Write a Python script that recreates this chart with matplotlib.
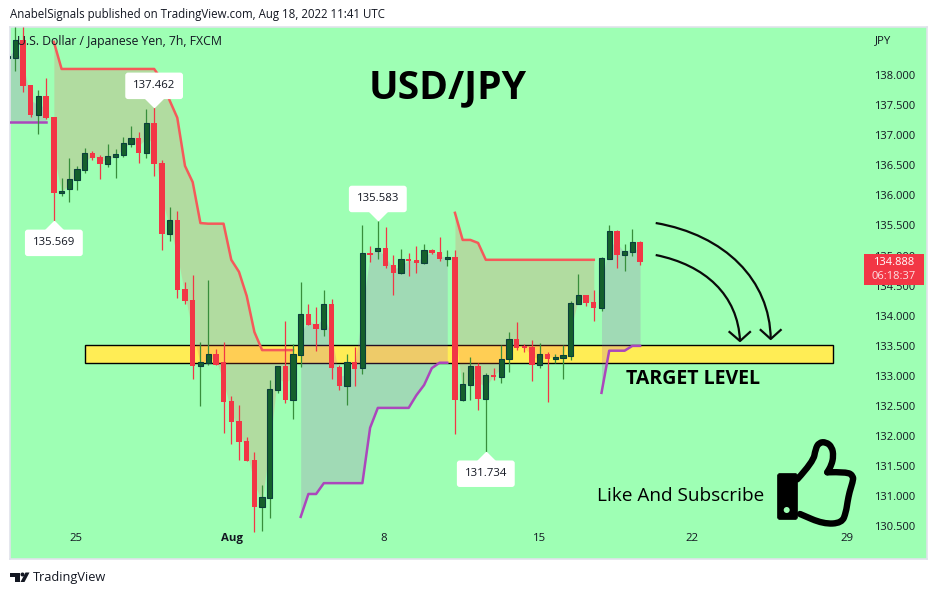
import numpy as np
import matplotlib
matplotlib.use("Agg")
import matplotlib.pyplot as plt
from matplotlib.patches import Rectangle, PathPatch, Circle, Polygon, FancyBboxPatch
from matplotlib.path import Path

# bar 0 sits on the left edge of the pane, mostly cut off
opens = [138.28, 138.28, 138.58, 137.83, 137.34, 137.65, 137.30, 136.04, 136.11, 136.26, 136.42,
         136.70, 136.64, 136.52, 136.64, 136.67, 136.85, 136.95, 136.70, 137.20, 136.54,
         135.36, 135.59, 134.44, 134.26, 133.17, 133.22, 133.37, 133.23, 132.58, 132.25,
         131.92, 131.60, 130.82, 130.97, 132.77, 133.17, 132.60, 133.35, 134.03, 133.86,
         133.78, 134.20, 133.15, 132.83, 133.23, 133.13, 135.04, 135.08, 135.13, 134.84,
         134.71, 134.94, 134.93, 134.88, 135.09, 135.06, 134.94, 134.98, 132.60, 132.85,
         133.17, 132.62, 133.02, 132.98, 133.28, 133.62, 133.48, 133.48, 133.18, 133.37,
         133.28, 133.30, 133.33, 134.20, 134.35, 134.23, 134.13, 134.94, 135.41, 135.01,
         135.06, 135.23]
highs = [138.36, 138.80, 138.80, 137.83, 137.75, 137.95, 137.30, 136.29, 136.62, 136.49, 136.79,
         136.74, 136.67, 136.85, 136.77, 136.97, 137.15, 137.05, 137.44, 137.46, 136.59,
         135.81, 135.74, 134.56, 134.68, 133.56, 134.59, 133.45, 133.56, 132.67, 132.52,
         131.99, 131.74, 131.19, 132.93, 133.17, 133.91, 133.53, 134.56, 134.20, 134.15,
         134.43, 134.28, 133.18, 133.37, 133.48, 135.51, 135.16, 135.58, 135.48, 135.01,
         135.11, 135.04, 135.16, 135.19, 135.11, 135.31, 135.09, 135.09, 133.07, 133.32,
         133.22, 133.05, 133.13, 133.52, 133.73, 133.90, 133.53, 133.60, 133.55, 133.40,
         133.37, 133.52, 134.25, 134.69, 134.35, 134.43, 134.98, 135.51, 135.43, 135.19,
         135.44, 135.24]
lows = [138.10, 138.07, 137.72, 137.30, 137.02, 137.27, 135.57, 135.99, 135.89, 136.09, 136.37,
        136.59, 136.27, 136.47, 136.29, 136.64, 136.80, 136.54, 136.62, 136.32, 135.09,
        135.24, 134.30, 134.20, 132.95, 132.50, 133.18, 133.18, 132.05, 131.87, 131.60,
        131.59, 130.41, 130.43, 130.64, 132.72, 132.55, 132.29, 133.15, 133.85, 133.42,
        133.66, 132.95, 132.77, 132.52, 132.83, 133.03, 134.89, 134.94, 134.79, 134.35,
        134.69, 134.66, 134.71, 134.86, 135.03, 134.91, 134.83, 132.04, 132.58, 132.60,
        132.44, 131.73, 132.93, 132.88, 133.07, 133.43, 133.40, 132.92, 133.13, 132.57,
        133.22, 132.95, 133.27, 134.20, 134.16, 133.91, 134.08, 134.94, 134.79, 134.74,
        134.99, 134.84]
closes = [138.30, 138.58, 137.82, 137.34, 137.65, 137.29, 136.04, 136.07, 136.27, 136.44, 136.70,
          136.62, 136.52, 136.65, 136.69, 136.87, 136.95, 136.70, 137.20, 136.52, 135.36,
          135.59, 134.43, 134.25, 133.17, 133.23, 133.37, 133.18, 132.57, 132.24, 131.90,
          131.59, 130.82, 130.99, 132.78, 133.17, 132.60, 133.37, 134.03, 133.85, 133.78,
          134.20, 133.13, 132.83, 133.23, 133.12, 135.04, 135.01, 135.13, 134.83, 134.71,
          134.94, 134.91, 134.88, 135.09, 135.04, 134.94, 134.98, 132.60, 132.87, 133.17,
          132.62, 133.02, 132.98, 133.28, 133.62, 133.47, 133.46, 133.18, 133.37, 133.28,
          133.32, 133.35, 134.21, 134.35, 134.21, 134.13, 134.96, 135.41, 135.01, 135.08,
          135.23, 134.888]

# supertrend pieces, first bar of each piece and its values
upper_a_start = 6
upper_a = [138.55] + [138.10] * 13 + [137.92, 137.58, 137.29, 136.49, 136.22, 135.54, 135.53, 135.53,
           135.53, 134.93, 134.73, 134.33, 133.73, 133.43, 133.43, 133.43, 133.43, 133.43]
upper_b_start = 58
upper_b = [135.71, 135.26, 135.26, 135.21] + [134.93] * 15
lower_a_start = 0
lower_a = [137.22] * 6
lower_b_start = 38
lower_b = [130.66, 131.04, 131.04, 131.22, 131.22, 131.22, 131.22, 131.22, 131.22, 132.14, 132.47,
           132.47, 132.47, 132.47, 132.47, 132.68, 132.85, 133.13, 133.22, 133.22]
lower_c_start = 77
lower_c = [132.72, 133.42, 133.42, 133.42, 133.50, 133.50]

y_ticks = [130.5, 131.0, 131.5, 132.0, 132.5, 133.0, 133.5, 134.0, 134.5, 135.0, 135.5,
           136.0, 136.5, 137.0, 137.5, 138.0]
x_tick_bars = [8.87, 29.1, 48.8, 68.9, 88.7, 108.8]
x_tick_labels = ["25", "Aug", "8", "15", "22", "29"]

target_top = 133.515
target_bottom = 133.21
target_first = 10.04
target_last = 106.96

# bar, price, text, side
price_marks = [(6, 135.569, "135.569", "low"), (19, 137.462, "137.462", "high"),
               (48, 135.583, "135.583", "high"), (62, 131.734, "131.734", "low")]

BG = "#9effb4"
RED = "#f23645"
GREEN_BODY = "#15602c"
GREEN_EDGE = "#0b3f3c"
GREEN_WICK = "#388e3c"
LINE_RED = "#f55a5a"
PURPLE = "#ab47bc"
TEXT = "#131722"
FONT = "Open Sans"

plt.rcParams["font.family"] = [FONT, "DejaVu Sans"]

opens = np.array(opens)
highs = np.array(highs)
lows = np.array(lows)
closes = np.array(closes)
bars = np.arange(len(opens))
mids = (opens + closes) / 2

fig = plt.figure(figsize=(9.38, 5.95), dpi=100, facecolor="white")

# main pane, px 10-927 across and 27-559 down
ax = fig.add_axes([10 / 938, 1 - 559 / 595, 917 / 938, 532 / 595], facecolor=BG)
ax.set_xlim(0.313, 119.2)
ax.set_ylim(129.96, 138.797)
for s in ax.spines.values():
    s.set_color("#e0e3eb")
    s.set_linewidth(1.2)

ax.set_yticks(y_ticks)
ax.set_yticklabels([f"{t:.3f}" for t in y_ticks], fontsize=8.0, color=TEXT)
ax.yaxis.tick_right()
ax.tick_params(axis="y", length=0, pad=-38)
ax.set_xticks(x_tick_bars)
ax.set_xticklabels(x_tick_labels, fontsize=8.2, color=TEXT)
ax.tick_params(axis="x", length=0, pad=-19)
ax.get_xticklabels()[1].set_fontweight("bold")

ax.add_patch(Rectangle((target_first, target_bottom), target_last - target_first,
                       target_top - target_bottom, facecolor="#ffed55", edgecolor="black",
                       linewidth=1.0, zorder=1))

for start, values, color in [(upper_a_start, upper_a, LINE_RED), (upper_b_start, upper_b, LINE_RED),
                             (lower_a_start, lower_a, PURPLE), (lower_b_start, lower_b, PURPLE),
                             (lower_c_start, lower_c, PURPLE)]:
    xs = np.arange(start, start + len(values))
    fill_color = "#ff5252" if color == LINE_RED else PURPLE
    ax.fill_between(xs, values, mids[xs], color=fill_color, alpha=0.2, linewidth=0, zorder=2)
    ax.plot(xs, values, color=color, linewidth=1.8, zorder=3)

is_up = closes >= opens
ax.vlines(bars[is_up], lows[is_up], highs[is_up], color=GREEN_WICK, linewidth=0.9, zorder=4)
ax.vlines(bars[~is_up], lows[~is_up], highs[~is_up], color=RED, linewidth=0.9, zorder=4)

heights = np.maximum(np.abs(closes - opens), 0.03)
bottoms = np.minimum(opens, closes)
ax.bar(bars[is_up], heights[is_up], bottom=bottoms[is_up], width=0.68, color=GREEN_BODY,
       edgecolor=GREEN_EDGE, linewidth=0.8, zorder=5)
ax.bar(bars[~is_up], heights[~is_up], bottom=bottoms[~is_up], width=0.7, color=RED,
       linewidth=0, zorder=5)

# high / low callouts: pointer tip sits on the price
up_tip = Path([(-1, -1), (1, -1), (0, 0), (-1, -1)])
down_tip = Path([(-1, 1), (1, 1), (0, 0), (-1, 1)])
for bar, price, label, side in price_marks:
    tip = up_tip if side == "low" else down_tip
    off = -15.5 if side == "low" else 15.5
    ax.plot([bar], [price], marker=tip, markersize=14, color="white", linestyle="none", zorder=6)
    ax.annotate(label, (bar, price), xytext=(0, off), textcoords="offset points", ha="center",
                va="center", fontsize=8.2, color=TEXT, zorder=7,
                bbox=dict(boxstyle="round,pad=0.68,rounding_size=0.25", facecolor="white",
                          edgecolor="none"))

# everything drawn on the chart by hand goes on a pixel overlay
ov = fig.add_axes([0, 0, 1, 1], facecolor="none")
ov.set_xlim(0, 938)
ov.set_ylim(595, 0)
ov.axis("off")

ov.text(10, 14.5, "AnabelSignals published on TradingView.com, Aug 18, 2022 11:41 UTC", fontsize=8.3,
        color=TEXT, va="center")
ov.text(17, 42, "U.S. Dollar / Japanese Yen, 7h, FXCM", fontsize=8.8, color=TEXT, va="center")
ov.text(875, 41, "JPY", fontsize=8.2, color=TEXT, va="center")
ov.text(448, 88, "USD/JPY", fontsize=28.2, fontweight="bold", color="black", ha="center", va="center")
ov.text(692.5, 379, "TARGET LEVEL", fontsize=14, fontweight="bold", color="black", ha="center", va="center")
ov.text(680.5, 496, "Like And Subscribe", fontsize=13.7, color="black", ha="center", va="center")

# last price tag
ov.add_patch(Rectangle((864, 254), 60, 31, facecolor=RED, edgecolor="none"))
ov.text(894, 262.5, "134.888", fontsize=8.0, color="white", ha="center", va="center")
ov.text(894, 276.5, "06:18:37", fontsize=8.0, color="#fde0e3", ha="center", va="center")

# hand drawn arrows
for curve, head in [
    ([(655.7, 223), (725, 235), (770, 280), (770.7, 339)],
     [(760.7, 330), (770.7, 339), (780.7, 330)]),
    ([(655.7, 255), (705, 265), (738, 295), (740, 341)],
     [(729.5, 332), (740, 341), (750, 332)]),
]:
    ov.add_patch(PathPatch(Path(curve, [Path.MOVETO, Path.CURVE4, Path.CURVE4, Path.CURVE4]),
                           facecolor="none", edgecolor="#0a0a0a", linewidth=1.6))
    ov.plot(*zip(*head), color="#0a0a0a", linewidth=1.6)

# thumbs up, rounded outline
thumb = [(797.3, 479.3), (813.3, 461.7), (815.5, 449), (819, 442.5), (826, 442), (832, 447),
         (833.5, 456), (831.5, 465), (827.3, 472.3)]
fist = [(827.3, 472.3), (846.7, 471.7), (853.5, 476), (852.7, 482), (849.5, 492), (847.5, 502),
        (846, 512), (842, 523), (823.3, 524), (800, 514)]
for outline in (thumb, fist):
    pts = np.array(outline)
    verts = [pts[0]]
    codes = [Path.MOVETO]
    for a, b in zip(pts[1:-1], pts[2:]):
        verts += [a, (a + b) / 2]
        codes += [Path.CURVE3, Path.CURVE3]
    verts.append(pts[-1])
    codes.append(Path.LINETO)
    ov.add_patch(PathPatch(Path(verts, codes), facecolor="none", edgecolor="black", linewidth=4.6,
                           capstyle="round", joinstyle="round"))
ov.add_patch(FancyBboxPatch((779, 475), 17, 43, boxstyle="round,pad=1.5,rounding_size=2.5",
                            facecolor="black", edgecolor="black", linewidth=0.5))
ov.add_patch(Circle((786.7, 510), 3, facecolor=BG, edgecolor="none"))

# footer logo and name
ov.add_patch(Polygon([(10, 572.5), (19.5, 572.5), (19.5, 582), (15, 582), (15, 576.5), (10, 576.5)],
                     facecolor=TEXT, edgecolor="none"))
ov.add_patch(Circle((22.5, 574.5), 2, facecolor=TEXT, edgecolor="none"))
ov.add_patch(Polygon([(25.5, 572.5), (29.5, 572.5), (24.5, 582), (20.5, 582)],
                     facecolor=TEXT, edgecolor="none"))
ov.text(33, 577.5, "TradingView", fontsize=9.2, color=TEXT, va="center")

fig.savefig("out.png", dpi=100)
